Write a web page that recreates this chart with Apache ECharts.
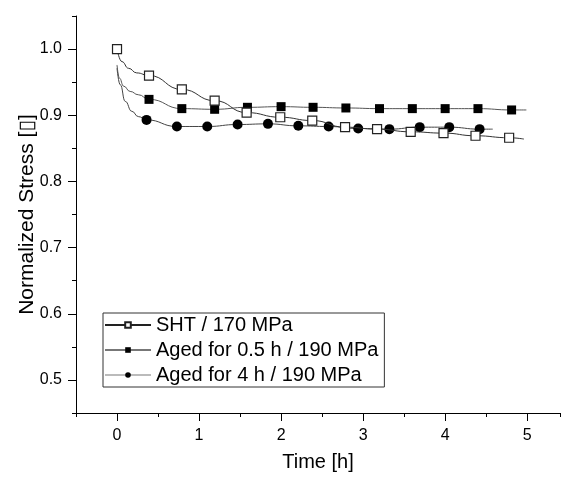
<!DOCTYPE html>
<html>
<head>
<meta charset="utf-8">
<script src="https://cdn.jsdelivr.net/npm/echarts@6/dist/echarts.min.js"></script>
<style>
html,body{margin:0;padding:0;background:#fff;}
#c{width:563px;height:479px;}
</style>
</head>
<body>
<div id="c"></div>
<script>
// ---- data ----
const seriesNames = ['SHT / 170 MPa', 'Aged for 0.5 h / 190 MPa', 'Aged for 4 h / 190 MPa'];

// measured points (markers)
const shtX = [0, 0.39, 0.79, 1.19, 1.58, 1.99, 2.38, 2.78, 3.17, 3.58, 3.98, 4.37, 4.78];
const shtY = [1.000, 0.960, 0.939, 0.922, 0.904, 0.897, 0.892, 0.882, 0.879, 0.875, 0.873, 0.869, 0.866];

const aged05X = [0.39, 0.79, 1.19, 1.59, 2.00, 2.39, 2.79, 3.20, 3.60, 4.00, 4.40, 4.81];
const aged05Y = [0.924, 0.910, 0.909, 0.912, 0.913, 0.912, 0.911, 0.910, 0.910, 0.910, 0.910, 0.908];

const aged4X = [0.36, 0.73, 1.10, 1.47, 1.84, 2.21, 2.58, 2.94, 3.32, 3.69, 4.05, 4.42];
const aged4Y = [0.893, 0.883, 0.883, 0.886, 0.887, 0.884, 0.883, 0.880, 0.879, 0.882, 0.882, 0.879];

// fitted-curve points without markers
const shtFitX = [0.06, 0.14, 0.24, 4.96];
const shtFitY = [0.981, 0.971, 0.964, 0.864];
const aged05FitX = [0, 0.03, 0.08, 0.16, 0.26, 4.99];
const aged05FitY = [0.976, 0.956, 0.944, 0.936, 0.931, 0.908];
const aged4FitX = [0, 0.04, 0.10, 0.18, 0.26, 4.58];
const aged4FitY = [0.971, 0.946, 0.921, 0.906, 0.898, 0.879];

// axis ticks
const xMajor = [0, 1, 2, 3, 4, 5];
const yMajor = [0.5, 0.6, 0.7, 0.8, 0.9, 1.0];

function build(mx, my, fx, fy) {
  const pts = [];
  mx.forEach((x, i) => pts.push({ value: [x, my[i]] }));
  fx.forEach((x, i) => pts.push({ value: [x, fy[i]], symbol: 'none' }));
  pts.sort((a, b) => a.value[0] - b.value[0]);
  return pts;
}

const FONT = '"Liberation Sans", Arial, "DejaVu Sans", sans-serif';

const chart = echarts.init(document.getElementById('c'), null, { renderer: 'canvas' });
chart.setOption({
  animation: false,
  backgroundColor: '#fff',
  textStyle: { fontFamily: FONT },
  grid: { left: 76, right: 3, top: 16, bottom: 66 },
  legend: {
    orient: 'vertical',
    left: 103, top: 313,
    itemWidth: 46, itemHeight: 7, itemGap: 5,
    padding: [2, 6, 2, 1],
    borderColor: '#333', borderWidth: 1,
    backgroundColor: '#fff',
    textStyle: { fontSize: 20, color: '#000', fontFamily: FONT, lineHeight: 20 },
    data: [
      { name: seriesNames[0], lineStyle: { color: '#222' } },
      { name: seriesNames[1], lineStyle: { color: '#777' } },
      { name: seriesNames[2], lineStyle: { color: '#bbb' } }
    ]
  },
  xAxis: [{
    type: 'value', min: -0.5, max: 5.4, position: 'bottom',
    axisLine: { onZero: false, lineStyle: { color: '#000', width: 1 } },
    axisTick: { customValues: xMajor, length: 8, lineStyle: { color: '#000' } },
    axisLabel: { customValues: xMajor, fontSize: 16, color: '#000', margin: 15, fontFamily: FONT },
    splitLine: { show: false },
    name: 'Time [h]', nameLocation: 'middle', nameGap: 39,
    nameTextStyle: { fontSize: 20, color: '#000', fontFamily: FONT }
  }, {
    type: 'value', min: -0.5, max: 5.4, interval: 0.5, position: 'bottom',
    axisLine: { show: false, onZero: false },
    axisTick: { length: 4, lineStyle: { color: '#000' } },
    axisLabel: { show: false },
    splitLine: { show: false }
  }],
  yAxis: [{
    type: 'value', min: 0.45, max: 1.05, position: 'left',
    axisLine: { show: true, onZero: false, lineStyle: { color: '#000', width: 1 } },
    axisTick: { show: true, customValues: yMajor, length: 8, lineStyle: { color: '#000' } },
    axisLabel: { customValues: yMajor, fontSize: 16, color: '#000', margin: 14, fontFamily: FONT,
      formatter: v => v.toFixed(1) },
    splitLine: { show: false },
    name: 'Normalized Stress [\u25AF]', nameLocation: 'middle', nameGap: 38,
    nameMoveOverlap: false,
    nameTextStyle: { fontSize: 21, color: '#000', fontFamily: FONT }
  }, {
    type: 'value', min: 0.45, max: 1.05, interval: 0.05, position: 'left',
    axisLine: { show: false, onZero: false },
    axisTick: { show: true, length: 4, lineStyle: { color: '#000' } },
    axisLabel: { show: false },
    splitLine: { show: false }
  }],
  series: [{
    name: seriesNames[0], type: 'line', z: 5,
    data: build(shtX, shtY, shtFitX, shtFitY),
    smooth: 0.5, smoothMonotone: 'x',
    symbol: 'rect', symbolSize: 9, showAllSymbol: true,
    itemStyle: { color: '#fff', borderColor: '#222', borderWidth: 1.2 },
    lineStyle: { color: '#333', width: 1 }
  }, {
    name: seriesNames[1], type: 'line', z: 4,
    data: build(aged05X, aged05Y, aged05FitX, aged05FitY),
    smooth: 0.5, smoothMonotone: 'x',
    symbol: 'rect', symbolSize: 9, showAllSymbol: true,
    itemStyle: { color: '#000', borderWidth: 0 },
    lineStyle: { color: '#555', width: 1 }
  }, {
    name: seriesNames[2], type: 'line', z: 3,
    data: build(aged4X, aged4Y, aged4FitX, aged4FitY),
    smooth: 0.5, smoothMonotone: 'x',
    symbol: 'circle', symbolSize: 10, showAllSymbol: true,
    itemStyle: { color: '#000', borderWidth: 0 },
    lineStyle: { color: '#444', width: 1 }
  }]
});
</script>
</body>
</html>
